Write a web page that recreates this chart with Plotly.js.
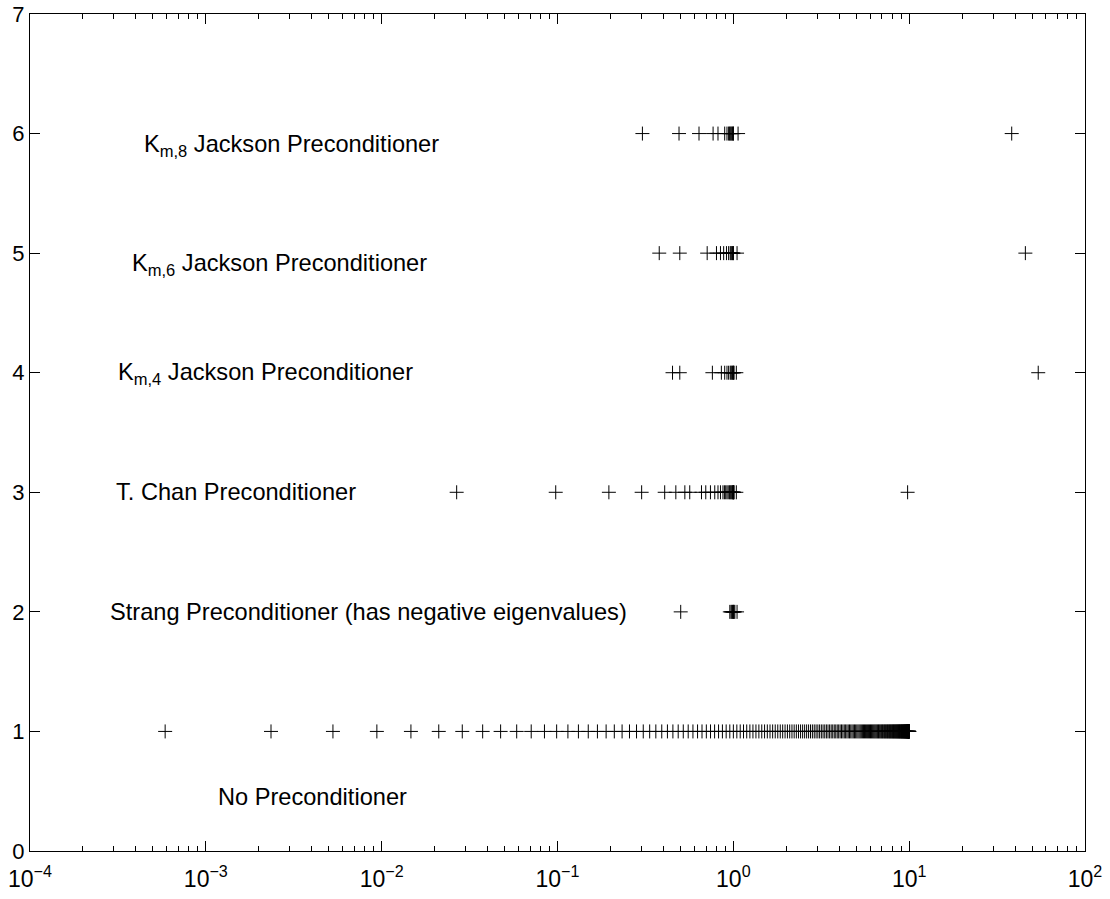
<!DOCTYPE html>
<html>
<head>
<meta charset="utf-8">
<script src="https://cdn.plot.ly/plotly-3.0.1.min.js"></script>
<style>
  html, body { margin: 0; padding: 0; background: #ffffff; }
  #chart { width: 1110px; height: 899px; }
</style>
</head>
<body>
<div id="chart"></div>
<script>
// Row labels (y position of each row)
const rowLabels = [
  "No Preconditioner",
  "Strang Preconditioner (has negative eigenvalues)",
  "T. Chan Preconditioner",
  "K<sub>m,4</sub> Jackson Preconditioner",
  "K<sub>m,6</sub> Jackson Preconditioner",
  "K<sub>m,8</sub> Jackson Preconditioner"
];

// Eigenvalues (row 1 .. row 6)
const noPrecond = [
  0.000587, 0.002348, 0.005284, 0.00939, 0.01467, 0.02112, 0.02874, 0.03753, 0.04748, 0.0586,
  0.07087, 0.0843, 0.09889, 0.1146, 0.1315, 0.1496, 0.1687, 0.189, 0.2104, 0.233,
  0.2567, 0.2815, 0.3074, 0.3344, 0.3625, 0.3917, 0.4219, 0.4532, 0.4857, 0.5192,
  0.5537, 0.5893, 0.6259, 0.6635, 0.7022, 0.7418, 0.7825, 0.8241, 0.8668, 0.9104,
  0.9549, 1.0005, 1.0469, 1.0943, 1.1426, 1.1918, 1.2419, 1.2929, 1.3447, 1.3974,
  1.451, 1.5054, 1.5606, 1.6166, 1.6734, 1.731, 1.7894, 1.8485, 1.9083, 1.9689,
  2.0302, 2.0922, 2.1548, 2.2182, 2.2821, 2.3468, 2.4121, 2.4779, 2.5444, 2.6114,
  2.679, 2.7472, 2.8158, 2.885, 2.9547, 3.0248, 3.0955, 3.1665, 3.238, 3.31,
  3.3822, 3.4549, 3.528, 3.6014, 3.6751, 3.7491, 3.8234, 3.8981, 3.9729, 4.048,
  4.1234, 4.199, 4.2747, 4.3506, 4.4266, 4.5028, 4.5791, 4.6555, 4.732, 4.8085,
  4.8851, 4.9617, 5.0383, 5.1149, 5.1915, 5.268, 5.3445, 5.4209, 5.4972, 5.5734,
  5.6494, 5.7253, 5.801, 5.8766, 5.952, 6.0271, 6.1019, 6.1766, 6.2509, 6.3249,
  6.3986, 6.472, 6.5451, 6.6178, 6.69, 6.762, 6.8335, 6.9045, 6.9752, 7.0453,
  7.115, 7.1842, 7.2528, 7.321, 7.3886, 7.4556, 7.5221, 7.5879, 7.6532, 7.7179,
  7.7818, 7.8452, 7.9078, 7.9698, 8.0311, 8.0917, 8.1515, 8.2106, 8.269, 8.3266,
  8.3834, 8.4394, 8.4946, 8.549, 8.6026, 8.6553, 8.7071, 8.7581, 8.8082, 8.8574,
  8.9057, 8.9531, 8.9995, 9.0451, 9.0896, 9.1332, 9.1759, 9.2175, 9.2582, 9.2978,
  9.3365, 9.3741, 9.4107, 9.4463, 9.4808, 9.5143, 9.5468, 9.5781, 9.6083, 9.6375,
  9.6656, 9.6926, 9.7185, 9.7433, 9.7674, 9.7899, 9.8112, 9.8315, 9.8506, 9.8686,
  9.8854, 9.9012, 9.9157, 9.929, 9.9415, 9.9525, 9.9625, 9.9713, 9.9789, 9.9853,
  9.9906, 9.9947, 9.9977, 9.9994
];
const strang = [0.502, 0.955, 0.97, 0.98, 0.99, 1.0, 1.0, 1.01, 1.02, 1.05];
const tChan = [0.0267, 0.0977, 0.196, 0.301, 0.407, 0.471, 0.53, 0.565, 0.659, 0.697,
  0.741, 0.784, 0.818, 0.845, 0.873, 0.89, 0.905, 0.92, 0.935, 0.95, 0.96, 0.97,
  0.98, 0.99, 0.995, 1.0, 1.0, 1.005, 1.01, 1.04, 9.8];
const jackson4 = [0.451, 0.496, 0.76, 0.855, 0.893, 0.92, 0.94, 0.96, 0.97, 0.98,
  0.99, 1.0, 1.0, 1.01, 1.04, 54.2];
const jackson6 = [0.379, 0.496, 0.71, 0.802, 0.845, 0.881, 0.914, 0.94, 0.96, 0.97,
  0.98, 0.99, 1.0, 1.0, 1.05, 45.8];
const jackson8 = [0.304, 0.491, 0.638, 0.767, 0.818, 0.893, 0.92, 0.94, 0.95, 0.96,
  0.97, 0.98, 0.99, 1.0, 1.0, 1.064, 38.3];

const series = [noPrecond, strang, tChan, jackson4, jackson6, jackson8];
const rowY = [1, 2, 3, 4, 5, 6];

// Label placement (log10 x of left edge, y of middle)
const labelX = [-2.945, -3.555, -3.525, -3.51, -3.43, -3.365];
const labelY = [0.45, 2.0, 3.0, 3.99, 4.9, 5.9];

const xTickVals = [1e-4, 1e-3, 1e-2, 1e-1, 1, 10, 100];
const xTickText = ["10<sup>\u22124</sup>", "10<sup>\u22123</sup>", "10<sup>\u22122</sup>",
  "10<sup>\u22121</sup>", "10<sup>0</sup>", "10<sup>1</sup>", "10<sup>2</sup>"];
const xMinorVals = [
  2e-4, 3e-4, 4e-4, 5e-4, 6e-4, 7e-4, 8e-4, 9e-4,
  2e-3, 3e-3, 4e-3, 5e-3, 6e-3, 7e-3, 8e-3, 9e-3,
  0.02, 0.03, 0.04, 0.05, 0.06, 0.07, 0.08, 0.09,
  0.2, 0.3, 0.4, 0.5, 0.6, 0.7, 0.8, 0.9,
  2, 3, 4, 5, 6, 7, 8, 9,
  20, 30, 40, 50, 60, 70, 80, 90
];
const yTickVals = [0, 1, 2, 3, 4, 5, 6, 7];

const FONT = "'Liberation Sans', Arial, Helvetica, sans-serif";

const traces = series.map((vals, i) => ({
  type: "scatter",
  mode: "markers",
  x: vals,
  y: vals.map(() => rowY[i]),
  marker: {
    symbol: "cross-thin-open",
    size: 10,
    color: "#000000",
    line: { color: "#000000", width: 1 }
  },
  hoverinfo: "x+y",
  showlegend: false
}));

const annotations = rowLabels.map((t, i) => ({
  text: t,
  x: labelX[i],
  y: labelY[i],
  xref: "x",
  yref: "y",
  xanchor: "left",
  yanchor: "middle",
  showarrow: false,
  font: { family: FONT, size: 23.6, color: "#000000" }
}));

const layout = {
  width: 1110,
  height: 899,
  margin: { l: 30, r: 25, t: 14, b: 48, pad: 0 },
  paper_bgcolor: "#ffffff",
  plot_bgcolor: "#ffffff",
  font: { family: FONT, size: 22, color: "#000000" },
  showlegend: false,
  xaxis: {
    type: "log",
    range: [-4, 2],
    tickvals: xTickVals,
    ticktext: xTickText,
    ticks: "inside",
    ticklen: 10,
    tickwidth: 1,
    tickcolor: "#000000",
    showline: true,
    linecolor: "#000000",
    linewidth: 1,
    mirror: "ticks",
    showgrid: false,
    zeroline: false,
    ticklabelstandoff: 7,
    tickfont: { family: FONT, size: 23, color: "#000000" },
    minor: { tickvals: xMinorVals, ticks: "inside", ticklen: 5, tickwidth: 1, tickcolor: "#000000", showgrid: false }
  },
  yaxis: {
    range: [0, 7],
    tickvals: yTickVals,
    ticks: "inside",
    ticklen: 10,
    tickwidth: 1,
    tickcolor: "#000000",
    showline: true,
    linecolor: "#000000",
    linewidth: 1,
    mirror: "ticks",
    showgrid: false,
    zeroline: false,
    tickfont: { family: FONT, size: 22, color: "#000000" }
  },
  annotations: annotations
};

Plotly.newPlot("chart", traces, layout, { displayModeBar: false, staticPlot: true });
</script>
</body>
</html>
